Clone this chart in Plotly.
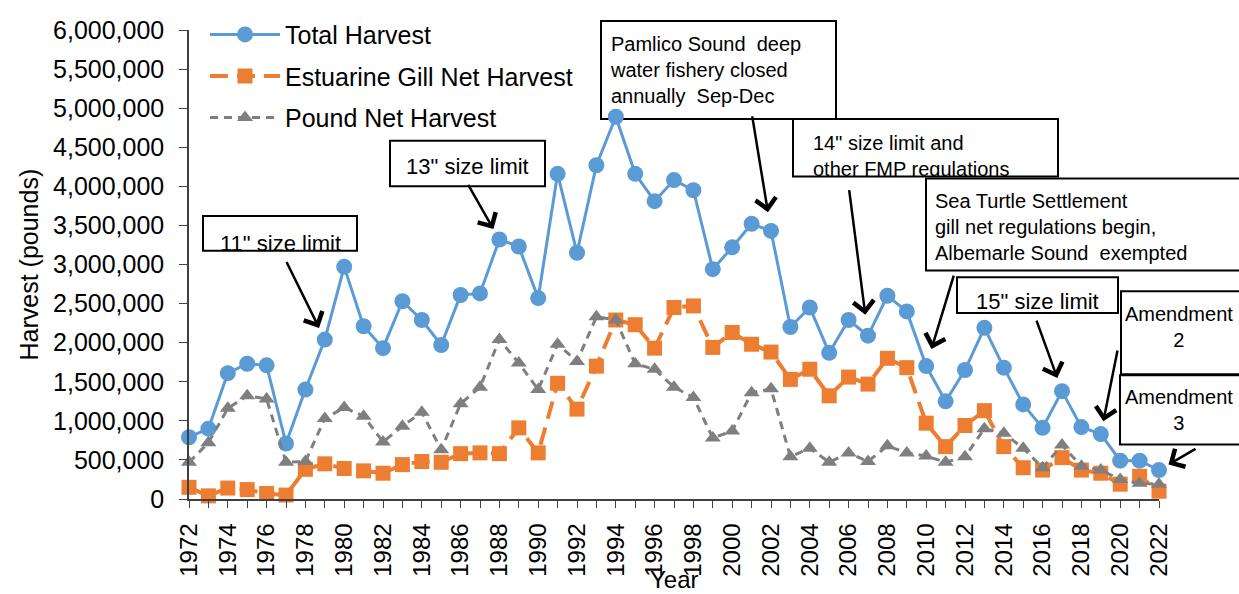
import plotly.graph_objects as go

# data (pounds)
years = list(range(1972, 2023))
total_harvest = [
    790000, 900000, 1610000, 1730000, 1710000, 710000, 1400000, 2040000, 2970000, 2210000,
    1930000, 2530000, 2290000, 1970000, 2610000, 2630000, 3320000, 3230000, 2570000, 4160000,
    3150000, 4270000, 4890000, 4160000, 3810000, 4080000, 3950000, 2940000, 3220000, 3520000,
    3430000, 2200000, 2450000, 1870000, 2290000, 2090000, 2600000, 2400000, 1700000, 1250000,
    1650000, 2190000, 1680000, 1210000, 910000, 1380000, 920000, 830000, 490000, 490000,
    370000,
]
gill_net = [
    150000, 40000, 140000, 120000, 70000, 50000, 380000, 450000, 390000, 360000,
    330000, 440000, 480000, 470000, 580000, 590000, 580000, 910000, 590000, 1480000,
    1150000, 1700000, 2290000, 2230000, 1930000, 2450000, 2470000, 1940000, 2130000, 1980000,
    1880000, 1530000, 1660000, 1320000, 1560000, 1470000, 1800000, 1680000, 970000, 670000,
    940000, 1130000, 670000, 400000, 370000, 530000, 370000, 330000, 190000, 290000,
    100000,
]
pound_net = [
    470000, 720000, 1160000, 1320000, 1280000, 470000, 480000, 1030000, 1170000, 1060000,
    730000, 930000, 1110000, 630000, 1220000, 1430000, 2040000, 1740000, 1400000, 1980000,
    1760000, 2330000, 2290000, 1730000, 1660000, 1430000, 1300000, 780000, 870000, 1360000,
    1410000, 540000, 650000, 470000, 590000, 480000, 680000, 590000, 550000, 470000,
    540000, 900000, 840000, 650000, 400000, 690000, 420000, 370000, 250000, 200000,
    190000,
]
tick_text = [str(y) if y % 2 == 0 else "" for y in years]

FONT = "Liberation Sans"
BLUE, ORANGE, GRAY = "#5B9BD5", "#ED7D31", "#7F7F7F"

# plot area in pixels (figure is 1239 x 594)
PL, PR, PT, PB = 189, 1159, 25, 499


def fx(x):
    return (x - PL) / (PR - PL)


def fy(y):
    return (PB - y) / (PB - PT)


fig = go.Figure()
fig.add_trace(go.Scatter(
    x=years, y=total_harvest, name="Total Harvest", mode="lines+markers",
    line=dict(color=BLUE, width=3), marker=dict(symbol="circle", size=16, color=BLUE),
    cliponaxis=False, legendgroup="a"))
fig.add_trace(go.Scatter(
    x=years, y=gill_net, name="Estuarine Gill Net Harvest", mode="lines+markers",
    line=dict(color=ORANGE, width=4, dash="18px,9px"),
    marker=dict(symbol="square", size=15, color=ORANGE),
    cliponaxis=False, legendgroup="b"))
fig.add_trace(go.Scatter(
    x=years, y=pound_net, name="Pound Net Harvest", mode="lines+markers",
    line=dict(color=GRAY, width=3, dash="8px,6px"),
    marker=dict(symbol="triangle-up", size=14, color=GRAY),
    cliponaxis=False, legendgroup="c"))

# callout boxes: (x0, y0, x1, y1) in pixels
boxes = [
    (203, 213, 357, 248),
    (390, 137, 545, 183),
    (601, 16, 836, 115),
    (793, 115, 1058, 173),
    (926, 175, 1245, 268),
    (957, 275, 1118, 311),
    (1121, 289, 1245, 373),
    (1120, 374, 1245, 444),
]
shapes = []
for x0, y0, x1, y1 in boxes:
    shapes.append(dict(type="rect", xref="paper", yref="paper",
                       x0=fx(x0), x1=fx(x1), y0=fy(y1), y1=fy(y0),
                       line=dict(color="black", width=2), fillcolor="white", layer="below"))

# callout text: (text, x, top y, align, clip height, font size)
callouts = [
    ('11" size limit', 280, 227, "center", 20, 22),
    ('13" size limit', 467, 149, "center", 30, 22),
    ("Pamlico Sound  deep<br>water fishery closed<br>annually  Sep-Dec", 609, 27, "left", 80, 20),
    ('14" size limit and<br>other FMP regulations', 812, 127, "left", 45, 20),
    ("Sea Turtle Settlement<br>gill net regulations begin,<br>Albemarle Sound  exempted", 934, 186, "left", 80, 20),
    ('15" size limit', 1037, 286, "center", 24, 22),
    ("Amendment<br>2", 1179, 300, "center", 60, 20),
    ("Amendment<br>3", 1179, 384, "center", 58, 20),
]
annotations = []
for text, x, y, align, h, size in callouts:
    left = align == "left"
    annotations.append(dict(
        text=text, xref="paper", yref="paper", x=fx(x), y=fy(y),
        xanchor="left" if left else "center", yanchor="top",
        align=align, valign="top", width=320 if left else None, height=h,
        borderpad=0, showarrow=False, font=dict(family=FONT, size=size, color="black")))

# arrows pointing at total harvest points: (year, dx, dy, standoff)
arrows = [
    (1979, -39, -79, 13),
    (1988, -32, -56, 12),
    (2002, -19, -116, 19),
    (2007, -19, -147, 21),
    (2010, 28, -92, 18),
    (2017, -26, -72, 14),
    (2019, 17, -85, 13),
    (2022, 38, -22, 11),
]
for yr, dx, dy, so in arrows:
    annotations.append(dict(
        x=yr, y=total_harvest[years.index(yr)], xref="x", yref="y", text="",
        showarrow=True, ax=dx, ay=dy, arrowhead=4, arrowsize=1.6, arrowwidth=2.5,
        arrowcolor="black", standoff=so))

annotations.append(dict(
    text="Harvest (pounds)", xref="paper", yref="paper", x=fx(28), y=0.5,
    xanchor="center", yanchor="middle",
    textangle=-90, showarrow=False, font=dict(family=FONT, size=25, color="black")))
annotations.append(dict(
    text="Year", xref="paper", yref="paper", x=0.5, y=fy(580),
    xanchor="center", yanchor="middle",
    showarrow=False, font=dict(family=FONT, size=24, color="black")))

fig.update_layout(
    width=1239, height=594,
    margin=dict(l=PL, r=1239 - PR, t=PT, b=594 - PB),
    paper_bgcolor="white", plot_bgcolor="white",
    font=dict(family=FONT, size=25, color="black"),
    shapes=shapes, annotations=annotations,
    legend=dict(x=fx(205), y=1.039, xanchor="left", yanchor="top",
                font=dict(family=FONT, size=25, color="black"),
                bgcolor="rgba(0,0,0,0)", tracegroupgap=6, itemwidth=70),
    xaxis=dict(range=[1972, 2022], tickmode="array", tickvals=years, ticktext=tick_text,
               tickangle=-90, ticks="outside", ticklen=7, tickcolor="#404040",
               showline=True, linecolor="#404040", linewidth=1.5, showgrid=False,
               zeroline=False, ticklabelstandoff=6, tickfont=dict(size=24),
               automargin=False),
    yaxis=dict(range=[0, 6000000], dtick=500000, tickformat=",d", ticks="outside",
               ticklen=8, tickcolor="#404040", showline=True, linecolor="#404040",
               linewidth=1.5, showgrid=False, zeroline=False, ticklabelstandoff=10,
               tickfont=dict(size=25), automargin=False),
)

fig.write_html("out.html", config={"displayModeBar": False},
               post_script="document.body.style.margin='0px';"
               "document.body.style.overflow='hidden';")
